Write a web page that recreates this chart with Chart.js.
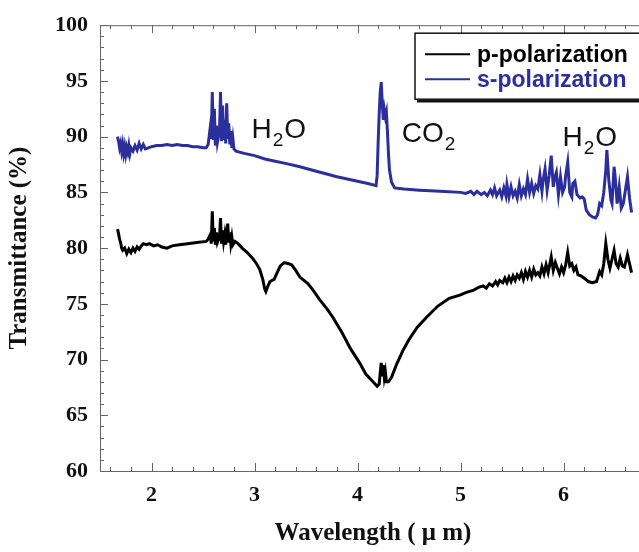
<!DOCTYPE html>
<html>
<head>
<meta charset="utf-8">
<script src="https://cdn.jsdelivr.net/npm/chart.js@4.4.0/dist/chart.umd.min.js"></script>
<style>
  html, body { margin: 0; padding: 0; background: #fff; overflow: hidden; }
</style>
</head>
<body>
<canvas id="spectrum" width="660" height="552"></canvas>
<script>
// tick labels
const xTicks = [2, 3, 4, 5, 6];
const yTicks = [60, 65, 70, 75, 80, 85, 90, 95, 100];

// s-polarization (blue)
const sWave = [1.67, 1.68, 1.69, 1.70, 1.71, 1.72, 1.73, 1.74, 1.75, 1.76, 1.77, 1.78, 1.79, 1.80, 1.82, 1.84, 1.86, 1.88, 1.90, 1.92, 1.94, 1.97,
  2.00, 2.05, 2.10, 2.15, 2.20, 2.25, 2.30, 2.35, 2.40, 2.45, 2.50, 2.53, 2.55, 2.57, 2.58, 2.59, 2.60, 2.61, 2.62, 2.63, 2.64, 2.66,
  2.67, 2.68, 2.69, 2.70, 2.71, 2.72, 2.73, 2.74, 2.75, 2.76, 2.77, 2.78, 2.79, 2.80, 2.82, 2.90, 3.00, 3.10, 3.20, 3.30, 3.44, 3.60,
  3.80, 4.00, 4.10, 4.18, 4.19, 4.20, 4.21, 4.22, 4.23, 4.24, 4.25, 4.26, 4.27, 4.28, 4.29, 4.30, 4.31, 4.33, 4.36, 4.45, 4.60, 4.80,
  5.00, 5.05, 5.10, 5.13, 5.16, 5.20, 5.23, 5.26, 5.29, 5.31, 5.33, 5.35, 5.38, 5.40, 5.42, 5.44, 5.45, 5.47, 5.49, 5.51, 5.53, 5.55,
  5.57, 5.59, 5.61, 5.63, 5.65, 5.67, 5.69, 5.71, 5.73, 5.75, 5.77, 5.79, 5.80, 5.82, 5.84, 5.86, 5.88, 5.90, 5.91, 5.93, 5.95, 5.97,
  5.99, 6.01, 6.02, 6.04, 6.06, 6.08, 6.09, 6.11, 6.13, 6.16, 6.18, 6.20, 6.22, 6.25, 6.28, 6.31, 6.33, 6.35, 6.37, 6.39, 6.41, 6.42,
  6.44, 6.46, 6.47, 6.49, 6.50, 6.52, 6.54, 6.56, 6.58, 6.60, 6.62, 6.64, 6.66];
const sTrans = [90.0, 89.6, 89.0, 89.4, 88.7, 89.3, 88.5, 89.1, 88.4, 89.0, 88.6, 89.2, 88.5, 89.0, 88.7, 89.2, 88.8, 89.4, 88.9, 89.3, 88.9, 89.0,
  89.1, 89.2, 89.2, 89.3, 89.2, 89.3, 89.2, 89.2, 89.1, 89.1, 89.0, 89.0, 89.3, 90.8, 89.8, 94.0, 89.7, 92.5, 89.2, 91.0, 89.5, 90.5,
  94.0, 89.6, 92.8, 89.7, 91.5, 89.4, 93.0, 89.8, 91.2, 89.3, 90.5, 89.0, 89.8, 88.9, 88.7, 88.5, 88.3, 88.0, 87.8, 87.6, 87.3, 86.9,
  86.4, 86.0, 85.8, 85.6, 86.5, 89.5, 92.0, 94.0, 94.9, 93.0, 91.5, 92.4, 91.8, 92.2, 90.5, 88.5, 87.0, 85.9, 85.4, 85.3, 85.2, 85.1,
  85.0, 84.9, 85.1, 84.8, 85.1, 84.8, 85.0, 84.7, 85.2, 84.8, 85.4, 84.7, 85.2, 84.6, 85.4, 84.7, 85.7, 84.6, 85.5, 84.7, 85.1, 84.5,
  85.7, 84.7, 85.3, 84.8, 86.2, 85.0, 85.8, 84.9, 85.6, 85.3, 86.6, 85.1, 86.0, 87.1, 85.2, 86.5, 88.3, 85.5, 86.2, 86.8, 84.8, 86.4,
  85.0, 85.5, 86.5, 87.7, 85.0, 84.6, 85.8, 86.0, 84.8, 84.5, 84.6, 84.4, 83.4, 83.0, 82.8, 82.7, 83.0, 84.0, 83.8, 85.0, 87.0, 88.8,
  86.0, 84.3, 84.0, 87.3, 86.5, 84.0, 85.5, 83.6, 84.0, 85.2, 86.4, 84.5, 83.2];

// p-polarization (black)
const pWave = [1.67, 1.68, 1.69, 1.70, 1.71, 1.72, 1.74, 1.76, 1.78, 1.80, 1.82, 1.84, 1.86, 1.88, 1.90, 1.92, 1.95, 1.98, 2.02, 2.06,
  2.10, 2.15, 2.20, 2.27, 2.35, 2.44, 2.53, 2.55, 2.57, 2.58, 2.59, 2.60, 2.61, 2.62, 2.63, 2.64, 2.66, 2.67, 2.68, 2.69, 2.70, 2.71,
  2.72, 2.73, 2.74, 2.75, 2.76, 2.77, 2.78, 2.79, 2.81, 2.84, 2.88, 2.93, 2.98, 3.02, 3.05, 3.08, 3.10, 3.11, 3.13, 3.15, 3.19, 3.22,
  3.25, 3.29, 3.33, 3.36, 3.40, 3.44, 3.48, 3.52, 3.57, 3.63, 3.70, 3.76, 3.85, 3.93, 4.02, 4.08, 4.15, 4.19, 4.21, 4.22, 4.23, 4.24,
  4.25, 4.26, 4.27, 4.28, 4.30, 4.33, 4.38, 4.44, 4.50, 4.58, 4.67, 4.78, 4.89, 5.00, 5.05, 5.12, 5.18, 5.22, 5.25, 5.28, 5.31, 5.34,
  5.36, 5.38, 5.41, 5.43, 5.45, 5.47, 5.49, 5.51, 5.53, 5.55, 5.57, 5.59, 5.61, 5.63, 5.65, 5.67, 5.69, 5.71, 5.73, 5.75, 5.77, 5.79,
  5.81, 5.83, 5.85, 5.88, 5.90, 5.92, 5.94, 5.96, 5.98, 6.00, 6.02, 6.04, 6.06, 6.08, 6.10, 6.12, 6.14, 6.17, 6.20, 6.24, 6.28, 6.32,
  6.35, 6.37, 6.39, 6.41, 6.43, 6.45, 6.47, 6.49, 6.51, 6.53, 6.55, 6.57, 6.59, 6.61, 6.62, 6.64, 6.66];
const pTrans = [81.7, 81.3, 80.8, 80.5, 80.0, 79.8, 80.0, 79.5, 79.9, 79.6, 80.0, 79.7, 80.1, 79.9, 80.2, 80.4, 80.3, 80.4, 80.2, 80.3,
  80.1, 80.0, 80.2, 80.3, 80.4, 80.5, 80.6, 80.8, 81.2, 80.4, 83.3, 80.6, 81.8, 80.3, 81.4, 80.5, 81.0, 82.7, 80.4, 81.6, 80.6, 81.2,
  80.3, 81.5, 82.2, 80.5, 81.4, 80.4, 81.0, 80.3, 80.6, 80.4, 80.0, 79.6, 79.1, 78.6, 78.1, 77.2, 76.3, 76.1, 76.6, 77.0, 77.2, 77.8,
  78.4, 78.7, 78.6, 78.5, 78.0, 77.4, 77.1, 76.8, 76.2, 75.4, 74.6, 73.8, 72.4, 71.0, 69.7, 68.7, 68.0, 67.6, 67.8, 68.8, 69.7, 68.5,
  69.5, 68.4, 68.9, 68.0, 68.0, 68.4, 69.6, 70.8, 71.8, 72.9, 73.8, 74.8, 75.5, 75.8, 76.0, 76.2, 76.5, 76.6, 76.4, 76.8, 76.6, 77.0,
  76.7, 77.1, 76.9, 77.3, 76.9, 77.4, 77.0, 77.5, 77.1, 77.6, 77.3, 77.8, 77.2, 77.9, 77.4, 78.0, 77.4, 78.1, 77.6, 77.8, 77.5, 78.3,
  77.7, 78.5, 77.8, 79.2, 78.0, 78.7, 78.2, 77.7, 78.3, 77.8, 78.5, 79.6, 78.4, 78.6, 78.0, 78.3, 77.6, 77.5, 77.3, 77.0, 76.9, 77.0,
  77.9, 77.6, 78.6, 80.4, 79.0, 78.2, 79.0, 79.8, 78.6, 78.3, 79.1, 78.4, 78.3, 79.0, 79.4, 78.6, 77.8];

// band labels
const bandMain = ['H', 'CO', 'H'];
const bandSub = ['2', '2', '2'];
const bandTail = ['O', '', 'O'];
const bandX = [2.97, 4.43, 5.99];
const bandY = [89.9, 89.55, 89.2];

const seriesNames = ['p-polarization', 's-polarization'];
const seriesColors = ['#000000', '#2b2f9c'];

const toPoints = (xs, ys) => xs.map((x, i) => ({ x: x, y: ys[i] }));

const serif = '"Liberation Serif", "Times New Roman", serif';
const sans = '"Liberation Sans", Arial, sans-serif';

// inward ticks on bottom, top and left plus the top frame line
const frameTicks = {
  id: 'frameTicks',
  afterDatasetsDraw(chart) {
    const { ctx, chartArea: a, scales: { x, y } } = chart;
    ctx.save();
    ctx.strokeStyle = '#666';
    ctx.lineWidth = 1;
    ctx.beginPath();
    ctx.moveTo(a.left, a.top + 0.5);
    ctx.lineTo(a.right, a.top + 0.5);
    for (let i = Math.ceil(x.min * 5); i <= x.max * 5; i++) {
      const px = Math.round(x.getPixelForValue(i / 5)) + 0.5;
      const len = i % 5 === 0 ? 8 : 4;
      ctx.moveTo(px, a.bottom); ctx.lineTo(px, a.bottom - len);
      ctx.moveTo(px, a.top); ctx.lineTo(px, a.top + len);
    }
    for (let v = y.min; v <= y.max; v++) {
      const py = Math.round(y.getPixelForValue(v)) + 0.5;
      const len = v % 5 === 0 ? 8 : 4;
      ctx.moveTo(a.left, py); ctx.lineTo(a.left + len, py);
    }
    ctx.stroke();
    ctx.restore();
  }
};

// band labels with subscripts
const bandLabels = {
  id: 'bandLabels',
  afterDatasetsDraw(chart) {
    const { ctx, scales: { x, y } } = chart;
    ctx.save();
    ctx.fillStyle = '#111';
    ctx.textBaseline = 'alphabetic';
    ctx.textAlign = 'left';
    bandMain.forEach((m, i) => {
      let px = x.getPixelForValue(bandX[i]);
      const py = y.getPixelForValue(bandY[i]);
      ctx.font = '28px ' + sans;
      ctx.fillText(m, px, py);
      px += ctx.measureText(m).width + 1;
      ctx.font = '19px ' + sans;
      ctx.fillText(bandSub[i], px, py + 8);
      px += ctx.measureText(bandSub[i]).width + 1;
      ctx.font = '28px ' + sans;
      ctx.fillText(bandTail[i], px, py);
    });
    ctx.restore();
  }
};

// boxed legend in the upper right corner
const boxLegend = {
  id: 'boxLegend',
  afterDraw(chart) {
    const { ctx, chartArea: a } = chart;
    const left = a.left + 315, top = a.top + 8;
    ctx.save();
    ctx.strokeStyle = '#111';
    ctx.lineWidth = 1.5;
    ctx.strokeRect(left, top, 300, 66);
    ctx.lineWidth = 2.5;
    ctx.beginPath();
    ctx.moveTo(left + 2, top + 68); ctx.lineTo(left + 300, top + 68);
    ctx.stroke();
    ctx.font = 'bold 23px ' + sans;
    ctx.textBaseline = 'middle';
    seriesNames.forEach((name, i) => {
      const ly = top + 21 + i * 25;
      ctx.strokeStyle = seriesColors[i];
      ctx.lineWidth = 2;
      ctx.beginPath();
      ctx.moveTo(left + 10, ly); ctx.lineTo(left + 55, ly);
      ctx.stroke();
      ctx.fillStyle = seriesColors[i];
      ctx.fillText(name, left + 62, ly + 1);
    });
    ctx.restore();
  }
};

new Chart(document.getElementById('spectrum'), {
  type: 'line',
  data: {
    datasets: [{
      label: seriesNames[0],
      data: toPoints(pWave, pTrans),
      borderColor: seriesColors[0],
      borderWidth: 3,
      pointRadius: 0,
      tension: 0
    }, {
      label: seriesNames[1],
      data: toPoints(sWave, sTrans),
      borderColor: seriesColors[1],
      borderWidth: 3,
      pointRadius: 0,
      tension: 0
    }]
  },
  options: {
    responsive: false,
    animation: false,
    layout: { padding: { top: 15, right: 14, left: 0, bottom: 0 } },
    plugins: {
      legend: { display: false },
      tooltip: { enabled: false }
    },
    scales: {
      x: {
        type: 'linear',
        min: 1.5,
        max: 6.8,
        afterBuildTicks: s => { s.ticks = xTicks.map(v => ({ value: v })); },
        afterFit: s => { s.height = 81; },
        grid: { display: false, drawTicks: false },
        border: { display: true, color: '#666', width: 1 },
        ticks: {
          padding: 11,
          color: '#111',
          font: { family: serif, size: 22, weight: 'bold' }
        },
        title: {
          display: true,
          text: 'Wavelength ( μ m)',
          color: '#111',
          padding: { top: 0, bottom: 3 },
          font: { family: serif, size: 25, weight: 'bold' }
        }
      },
      y: {
        min: 60,
        max: 100,
        afterBuildTicks: s => { s.ticks = yTicks.map(v => ({ value: v })); },
        afterFit: s => { s.width = 100; },
        grid: { display: false, drawTicks: false },
        border: { display: true, color: '#666', width: 1 },
        ticks: {
          padding: 12,
          color: '#111',
          font: { family: serif, size: 22, weight: 'bold' }
        },
        title: {
          display: true,
          text: 'Transmittance (%)',
          color: '#111',
          padding: { top: 5, bottom: 0 },
          font: { family: serif, size: 25, weight: 'bold' }
        }
      }
    }
  },
  plugins: [frameTicks, bandLabels, boxLegend]
});
</script>
</body>
</html>
